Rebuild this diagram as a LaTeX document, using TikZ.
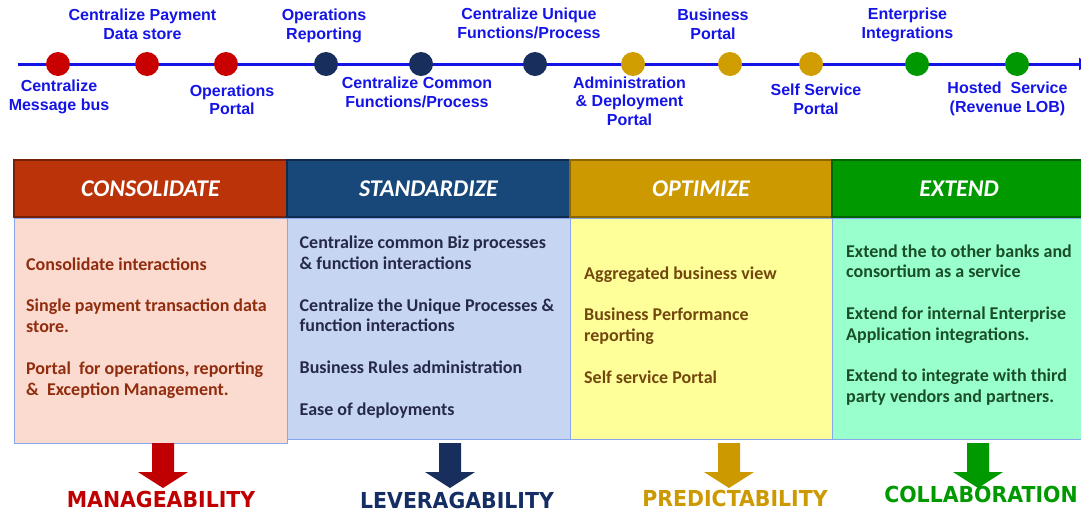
\documentclass[tikz,border=0pt]{standalone}
\usepackage{fontspec}
\setmainfont{Carlito}
\newfontfamily\linefont{Liberation Sans}
\newfontfamily\capfont{DejaVu Sans}[FakeStretch=0.93]
\usetikzlibrary{positioning,arrows.meta}
\definecolor{lineblue}{RGB}{20,20,230}
\definecolor{redA}{RGB}{200,0,0}
\definecolor{navyA}{RGB}{24,46,92}
\definecolor{goldA}{RGB}{208,158,0}
\definecolor{greenA}{RGB}{0,152,0}
\definecolor{conshd}{RGB}{187,51,8}
\definecolor{conshdB}{RGB}{120,32,6}
\definecolor{stanhd}{RGB}{24,72,122}
\definecolor{stanhdB}{RGB}{14,42,78}
\definecolor{opthd}{RGB}{204,153,0}
\definecolor{opthdB}{RGB}{140,102,0}
\definecolor{exthd}{RGB}{0,153,0}
\definecolor{exthdB}{RGB}{0,100,0}
\definecolor{consbg}{RGB}{251,218,207}
\definecolor{stanbg}{RGB}{197,213,242}
\definecolor{optbg}{RGB}{255,255,153}
\definecolor{extbg}{RGB}{153,255,204}
\definecolor{bodyline}{RGB}{135,168,236}
\definecolor{constx}{RGB}{145,45,15}
\definecolor{stantx}{RGB}{38,42,72}
\definecolor{opttx}{RGB}{115,72,15}
\definecolor{exttx}{RGB}{25,78,40}
\definecolor{manage}{RGB}{192,0,0}
\definecolor{lever}{RGB}{20,45,100}

\begin{document}
\begin{tikzpicture}[x=1pt,y=-1pt,
  dot/.style={circle, minimum size=24pt, inner sep=0pt},
  tlabel/.style={align=center, inner sep=0pt, anchor=base, text=lineblue, font=\linefont\bfseries\fontsize{16}{18.5}\selectfont},
  hdr/.style={draw, line width=1.2pt, minimum height=57pt, inner sep=0pt, text=white, font=\bfseries\itshape\fontsize{24}{28}\selectfont},
  body/.style={draw=bodyline, line width=0.8pt, inner sep=0pt},
  item/.style={align=left, inner sep=0pt, anchor=base west, font=\bfseries\fontsize{18}{20.8}\selectfont},
  result/.style={inner sep=0pt, anchor=base, font=\capfont\bfseries\fontsize{22}{24}\selectfont}]
\useasboundingbox (0,0) rectangle (1081,512);

\coordinate (tlstart) at (18,64);
\coordinate (tlend) at (1089,64);
\draw [lineblue, line width=3pt, -{Triangle[length=10pt,width=12pt]}] (tlstart) -- (tlend);

\node [dot, fill=redA] (d1) at (58,64) {};
\node [dot, fill=redA] (d2) at (147,64) {};
\node [dot, fill=redA] (d3) at (226,64) {};
\node [dot, fill=navyA] (d4) at (326,64) {};
\node [dot, fill=navyA] (d5) at (421,64) {};
\node [dot, fill=navyA] (d6) at (535,64) {};
\node [dot, fill=goldA] (d7) at (633,64) {};
\node [dot, fill=goldA] (d8) at (730,64) {};
\node [dot, fill=goldA] (d9) at (811,64) {};
\node [dot, fill=greenA] (d10) at (917,64) {};
\node [dot, fill=greenA] (d11) at (1017,64) {};

\node [tlabel] (l1) at ([xshift=1pt, yshift=-46pt] d1) {Centralize\\Message bus};
\node [tlabel] (l2) at ([xshift=-4.5pt, yshift=25pt] d2) {Centralize Payment\\Data store};
\node [tlabel] (l3) at ([xshift=6pt, yshift=-50.5pt] d3) {Operations\\Portal};
\node [tlabel] (l4) at ([xshift=-2pt, yshift=25pt] d4) {Operations\\Reporting};
\node [tlabel] (l5) at ([xshift=-4pt, yshift=-43pt] d5) {Centralize Common\\Functions/Process};
\node [tlabel] (l6) at ([xshift=-6pt, yshift=26pt] d6) {Centralize Unique\\Functions/Process};
\node [tlabel] (l7) at ([xshift=-3.5pt, yshift=-61pt] d7) {Administration\\\& Deployment\\Portal};
\node [tlabel] (l8) at ([xshift=-17pt, yshift=25pt] d8) {Business\\Portal};
\node [tlabel] (l9) at ([xshift=5pt, yshift=-50pt] d9) {Self Service\\Portal};
\node [tlabel] (l10) at ([xshift=-9.5pt, yshift=26pt] d10) {Enterprise\\Integrations};
\node [tlabel] (l11) at ([xshift=-9.5pt, yshift=-48pt] d11) {Hosted\ \ Service\\(Revenue LOB)};

\node [hdr, fill=conshd, draw=conshdB, minimum width=273pt] (conshead) at (150.5,188.5) {CONSOLIDATE};
\node [hdr, fill=stanhd, draw=stanhdB, minimum width=283pt] (stanhead) at (428.5,188.5) {STANDARDIZE};
\node [hdr, fill=opthd, draw=opthdB, minimum width=262pt] (opthead) at (701,188.5) {OPTIMIZE};
\node [hdr, fill=exthd, draw=exthdB, minimum width=254pt] (exthead) at (959,188.5) {EXTEND};

\node [body, fill=consbg, minimum width=273pt, minimum height=225pt, below=0pt of conshead] (consbody) {};
\node [body, fill=stanbg, minimum width=283pt, minimum height=221.5pt, below=0pt of stanhead] (stanbody) {};
\node [body, fill=optbg, minimum width=262pt, minimum height=221.5pt, below=0pt of opthead] (optbody) {};
\node [body, fill=extbg, minimum width=254pt, minimum height=221.5pt, below=0pt of exthead] (extbody) {};

\node [item, text=constx] (consitems) at (26,395) {Consolidate interactions\\[20.8pt]Single payment transaction data\\store.\\[20.8pt]Portal\ \ for operations, reporting\\\&\ \ Exception Management.};
\node [item, text=stantx] (stanitems) at (299.5,415) {Centralize common Biz processes\\\& function interactions\\[20.8pt]Centralize the Unique Processes \&\\function interactions\\[20.8pt]Business Rules administration\\[20.8pt]Ease of deployments};
\node [item, text=opttx] (optitems) at (584,383.3) {Aggregated business view\\[20.8pt]Business Performance\\reporting\\[20.8pt]Self service Portal};
\node [item, text=exttx] (extitems) at (846,402.7) {Extend the to other banks and\\consortium as a service\\[20.8pt]Extend for internal Enterprise\\Application integrations.\\[20.8pt]Extend to integrate with third\\party vendors and partners.};

\coordinate (consdown) at (163,443);
\coordinate (standown) at (450,443);
\coordinate (optdown) at (729,443);
\coordinate (extdown) at (978,443);
\fill [manage] (consdown) ++(-11,0) -- ++(22,0) -- ++(0,29) -- ++(14,0) -- ++(-25,16) -- ++(-25,-16) -- ++(14,0) -- cycle;
\fill [navyA] (standown) ++(-11,0) -- ++(22,0) -- ++(0,29) -- ++(14,0) -- ++(-25,16) -- ++(-25,-16) -- ++(14,0) -- cycle;
\fill [opthd] (optdown) ++(-11,0) -- ++(22,0) -- ++(0,29) -- ++(14,0) -- ++(-25,16) -- ++(-25,-16) -- ++(14,0) -- cycle;
\fill [exthd] (extdown) ++(-11,0) -- ++(22,0) -- ++(0,29) -- ++(14,0) -- ++(-25,16) -- ++(-25,-16) -- ++(14,0) -- cycle;

\node [result, text=manage] (manageres) at (161,507) {MANAGEABILITY};
\node [result, text=lever] (leverres) at (457,508) {LEVERAGABILITY};
\node [result, text=opthd] (optres) at (735,506) {PREDICTABILITY};
\node [result, text=exthd] (extres) at (981,502) {COLLABORATION};
\end{tikzpicture}
\end{document}
